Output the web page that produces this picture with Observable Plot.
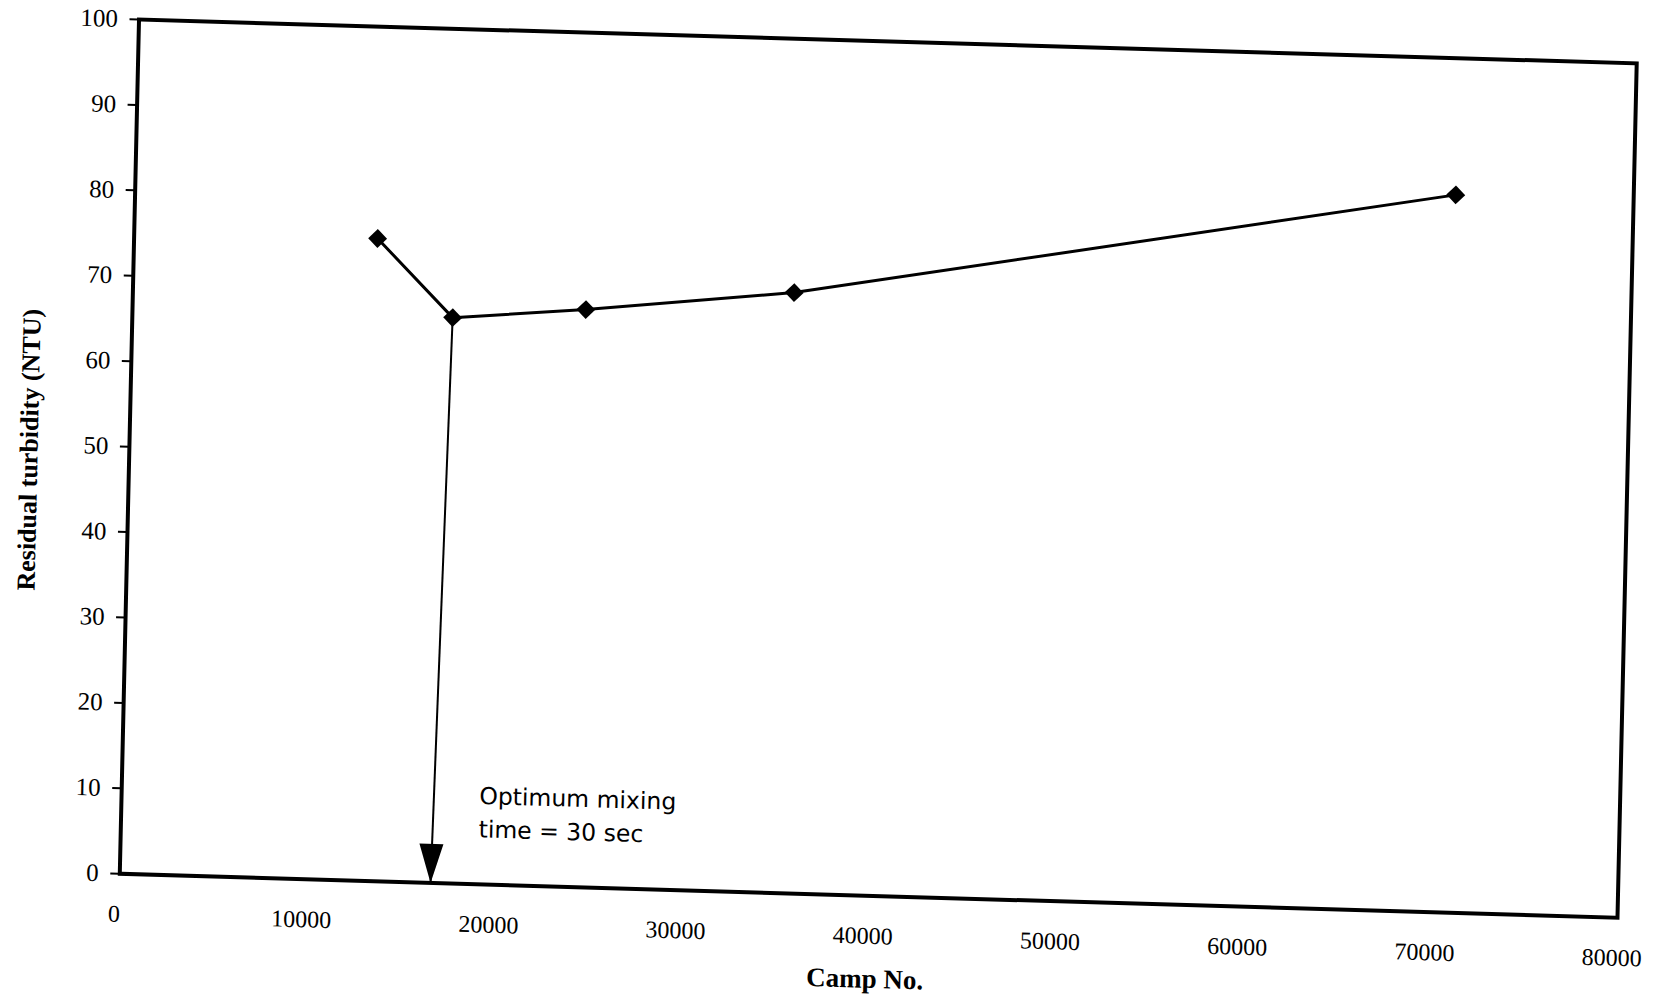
<!DOCTYPE html>
<html>
<head>
<meta charset="utf-8">
<script src="https://cdn.jsdelivr.net/npm/d3@7"></script>
<script src="https://cdn.jsdelivr.net/npm/@observablehq/plot@0.6"></script>
<style>
  html, body { margin: 0; padding: 0; background: #fff; }
  #chart svg {
    display: block;
    transform-origin: 119.3px 873.3px;
    transform: matrix(1, 0.0293, -0.0225, 1, 0, 0);
  }
</style>
</head>
<body>
<div id="chart"></div>
<script>
// Data read from the (scanned) chart
const campNo = [13000, 17100, 24200, 35300, 70500];
const turbidity = [75.2, 66.2, 67.6, 70.3, 84.0];

// Axis ticks
const xTicks = [0, 10000, 20000, 30000, 40000, 50000, 60000, 70000, 80000];
const yTicks = [0, 10, 20, 30, 40, 50, 60, 70, 80, 90, 100];

// Annotation: optimum point arrow down to the axis
const arrowFromIndex = 1;
const arrowToX = [16600];
const arrowToY = [0];
const noteText = ["Optimum mixing\ntime = 30 sec"];
const noteX = [19100];
const noteY = [8.7];

const xTitle = "Camp No.";
const yTitle = "Residual turbidity (NTU)";

const points = campNo.map((x, i) => ({x, y: turbidity[i]}));
const arrowData = arrowToX.map((x, i) => ({
  x1: campNo[arrowFromIndex], y1: turbidity[arrowFromIndex], x2: x, y2: arrowToY[i]
}));
const notes = noteText.map((t, i) => ({t, x: noteX[i], y: noteY[i]}));

// Filled elongated arrowhead with the tip at the symbol origin, pointing down
const arrowHead = {
  draw(ctx) {
    ctx.moveTo(0, 0);
    ctx.lineTo(-12, -39);
    ctx.lineTo(12, -39);
    ctx.closePath();
  }
};

const serif = "'Liberation Serif', 'Times New Roman', serif";

const chart = Plot.plot({
  width: 1662,
  height: 1000,
  marginLeft: 119.3,
  marginRight: 45,
  marginTop: 19,
  marginBottom: 126.7,
  style: {fontFamily: serif, fontSize: "24px", color: "#000", background: "#fff"},
  x: {domain: [0, 80000]},
  y: {domain: [0, 100]},
  marks: [
    Plot.axisX(xTicks, {tickSize: 0, tickPadding: 31, dx: -5, fontSize: 24, tickFormat: d => String(d), label: null}),
    Plot.axisY(yTicks, {tickSize: 9, tickPadding: 12, strokeWidth: 2, fontSize: 25, tickFormat: d => String(d), label: null}),
    Plot.frame({stroke: "#000", strokeWidth: 4}),
    Plot.link(arrowData, {x1: "x1", y1: "y1", x2: "x2", y2: "y2", stroke: "#000", strokeWidth: 2}),
    Plot.dot(arrowData, {x: "x2", y: "y2", symbol: arrowHead, fill: "#000", stroke: "none"}),
    Plot.line(points, {x: "x", y: "y", stroke: "#000", strokeWidth: 3}),
    Plot.dot(points, {x: "x", y: "y", symbol: "diamond2", r: 8.5, fill: "#000", stroke: "none"}),
    Plot.text(notes, {x: "x", y: "y", text: "t", textAnchor: "start", lineAnchor: "middle",
      lineHeight: 1.42, fontFamily: "'DejaVu Sans', sans-serif", fontSize: 23.5, fill: "#000"}),
    Plot.text([yTitle], {frameAnchor: "left", textAnchor: "middle", text: d => d, rotate: -90, dx: -100, dy: 6,
      fontWeight: "bold", fontSize: 26, fill: "#000"}),
    Plot.text([xTitle], {frameAnchor: "bottom", textAnchor: "middle", text: d => d, dx: -2, dy: 92,
      fontWeight: "bold", fontSize: 27, fill: "#000"})
  ]
});

document.getElementById("chart").appendChild(chart);
</script>
</body>
</html>
